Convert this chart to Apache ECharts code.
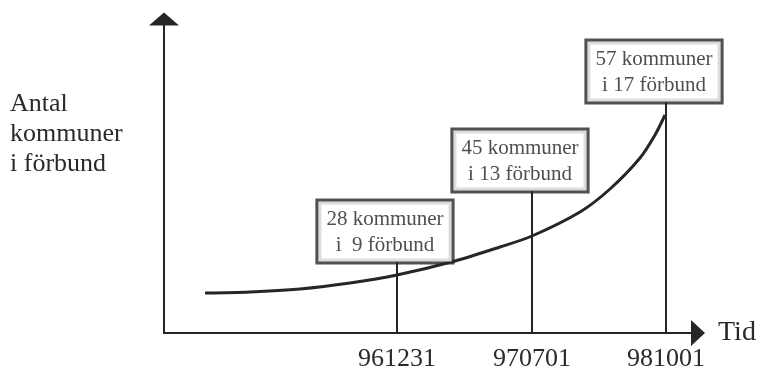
<!DOCTYPE html>
<html>
<head>
<meta charset="utf-8">
<script src="https://cdn.jsdelivr.net/npm/echarts@6/dist/echarts.min.js"></script>
<style>html,body{margin:0;padding:0;background:#fff;}#c{width:766px;height:367px;}</style>
</head>
<body>
<div id="c"></div>
<script>
// Schematic curve (arbitrary units along time / count)
var curveX = [41, 86, 136, 186, 233, 291, 336, 368, 416, 446, 476, 491, 501];
var curveY = [40, 41, 44, 50, 58, 72, 86, 97, 121, 144, 175, 198, 218];
// Milestones
var tickLabels = ['961231', '970701', '981001'];
var tickPos = [233, 368, 502];
var boxBase = [71, 142, 231];
var kommuner = [28, 45, 57];
var forbund = [9, 13, 17];

var ink = '#262626';
var serif = '"Liberation Serif", "DejaVu Serif", serif';

var curveData = curveX.map(function (x, i) { return [x, curveY[i]]; });
var boxData = tickPos.map(function (x, i) { return [x, boxBase[i]]; });
var stems = tickPos.map(function (x, i) {
  return [{ coord: [x, 0] }, { coord: [x, boxBase[i]] }];
});

var chart = echarts.init(document.getElementById('c'));
chart.setOption({
  animation: false,
  backgroundColor: '#fff',
  grid: { left: 164, right: 68, top: 19, bottom: 34, outerBoundsMode: 'none', containLabel: false },
  xAxis: {
    type: 'value', min: 0, max: 534,
    name: 'Tid', nameLocation: 'end', nameGap: 20,
    nameTextStyle: { fontFamily: serif, fontSize: 28, color: '#2a2a2a', verticalAlign: 'middle', padding: [0, 0, 22, 0] },
    axisLine: { show: true, lineStyle: { color: ink, width: 2 }, symbol: ['none', 'triangle'], symbolSize: [26, 14] },
    axisTick: { show: false },
    splitLine: { show: false },
    axisLabel: {
      customValues: tickPos,
      margin: 13,
      fontFamily: serif, fontSize: 26, color: '#2a2a2a',
      formatter: function (v) { var i = tickPos.indexOf(v); return i >= 0 ? tickLabels[i] : ''; }
    }
  },
  yAxis: {
    type: 'value', min: 0, max: 314,
    axisLine: { show: true, lineStyle: { color: ink, width: 2 }, symbol: ['none', 'triangle'], symbolSize: [30, 13] },
    axisTick: { show: false },
    splitLine: { show: false },
    axisLabel: { show: false }
  },
  graphic: [{
    type: 'text', left: 10, top: 89,
    style: { text: 'Antal\nkommuner\ni förbund', font: '26px ' + serif, fill: '#2a2a2a', lineHeight: 30 }
  }],
  series: [{
    type: 'line',
    data: curveData,
    smooth: 0.3,
    showSymbol: false,
    lineStyle: { color: ink, width: 3 },
    silent: true
  }, {
    type: 'scatter',
    data: boxData,
    symbolSize: 1,
    itemStyle: { color: 'rgba(0,0,0,0)' },
    silent: true,
    z: 5,
    label: {
      show: true, position: 'top', distance: 0, offset: [-12, 0],
      fontFamily: serif, fontSize: 21, lineHeight: 26, color: '#222',
      backgroundColor: '#fff', borderColor: ink, borderWidth: 3,
      padding: [5, 8, 3, 8], align: 'center',
      formatter: function (p) {
        var i = p.dataIndex;
        var f = forbund[i] < 10 ? ' ' + forbund[i] : '' + forbund[i];
        return kommuner[i] + ' kommuner\ni ' + f + ' förbund';
      }
    },
    markLine: {
      silent: true, symbol: ['none', 'none'],
      label: { show: false },
      lineStyle: { color: ink, width: 2, type: 'solid' },
      data: stems
    }
  }]
});
</script>
</body>
</html>
